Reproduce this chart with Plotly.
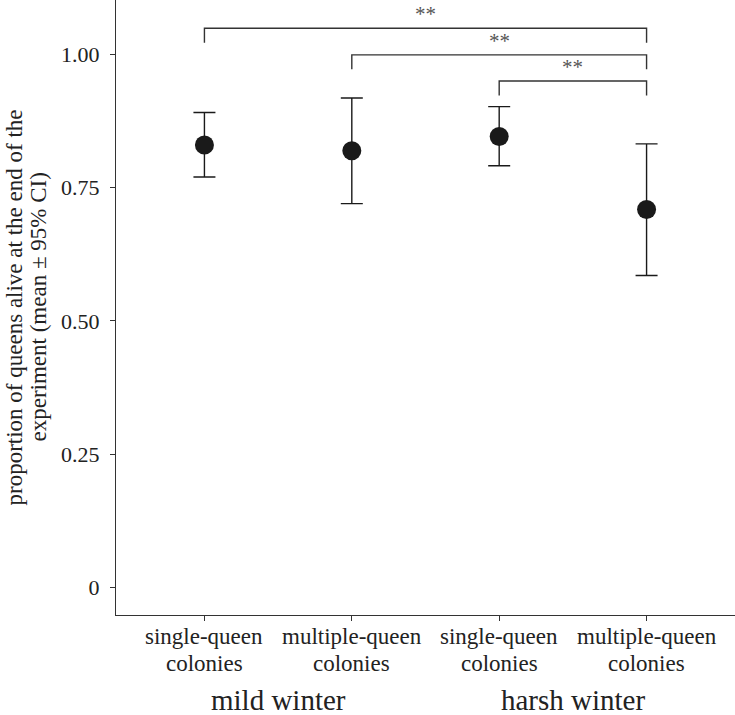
import plotly.graph_objects as go

# group means and 95% CI bounds
groups = [1, 2, 3, 4]
colony_type = ["single-queen", "multiple-queen", "single-queen", "multiple-queen"]
winter_labels = ["mild winter", "harsh winter"]
winter_centres = [1.5, 3.5]
mean_alive = [0.830, 0.819, 0.846, 0.709]
ci_upper = [0.891, 0.918, 0.902, 0.832]
ci_lower = [0.770, 0.720, 0.791, 0.585]

# significance brackets: (from group, to group, height, label)
bracket_from = [1, 2, 3]
bracket_to = [4, 4, 4]
bracket_height = [1.049, 0.999, 0.950]
bracket_label = ["**", "**", "**"]

y_ticks = [0, 0.25, 0.5, 0.75, 1.0]
y_ticktext = ["0", "0.25", "0.50", "0.75", "1.00"]

INK = "#1a1a1a"
AXIS = "#333333"
TEXT = "#222222"
FONT = "Liberation Serif, Times New Roman, serif"

fig = go.Figure()

# brackets first so markers sit on top
drop = 0.027
for x0, x1, h in zip(bracket_from, bracket_to, bracket_height):
    fig.add_trace(go.Scatter(
        x=[x0, x0, x1, x1], y=[h - drop, h, h, h - drop],
        mode="lines", line=dict(color=AXIS, width=1.4),
        hoverinfo="skip", showlegend=False,
    ))
for x0, x1, h, lab in zip(bracket_from, bracket_to, bracket_height, bracket_label):
    fig.add_annotation(
        x=(x0 + x1) / 2, y=h + 0.027, text=lab, showarrow=False,
        xanchor="center", yanchor="middle",
        font=dict(family=FONT, size=21, color="#555555"),
    )

fig.add_trace(go.Scatter(
    x=groups, y=mean_alive, mode="markers",
    marker=dict(size=19, color=INK),
    error_y=dict(
        type="data", symmetric=False,
        array=[u - m for u, m in zip(ci_upper, mean_alive)],
        arrayminus=[m - l for m, l in zip(mean_alive, ci_lower)],
        color=INK, thickness=1.4, width=11,
    ),
    showlegend=False,
))

fig.update_xaxes(
    range=[0.4, 4.6], tickmode="array", tickvals=groups, showticklabels=False,
    showgrid=False, zeroline=False, showline=True, linecolor=AXIS, linewidth=1.3,
    ticks="outside", ticklen=5, tickcolor=AXIS, tickwidth=1.2,
    automargin=False,
)
fig.update_yaxes(
    range=[-0.052, 1.102], tickmode="array", tickvals=y_ticks, ticktext=y_ticktext,
    showgrid=False, zeroline=False, showline=True, linecolor=AXIS, linewidth=1.3,
    ticks="outside", ticklen=5, tickcolor=AXIS, tickwidth=1.2,
    tickfont=dict(family=FONT, size=22, color=TEXT),
    ticklabelstandoff=6, automargin=False,
)

# two-line category labels, spaced tighter than a <br> would give
for g, name in zip(groups, colony_type):
    for text, dy in [(name, -21), ("colonies", -48)]:
        fig.add_annotation(
            x=g, y=0, xref="x", yref="paper", yshift=dy,
            text=text, showarrow=False, xanchor="center", yanchor="middle",
            font=dict(family=FONT, size=23, color=TEXT),
        )

# winter treatment labels
for text, xc in zip(winter_labels, winter_centres):
    fig.add_annotation(
        x=xc, y=0, xref="x", yref="paper", yshift=-85,
        text=text, showarrow=False, xanchor="center", yanchor="middle",
        font=dict(family=FONT, size=29, color=TEXT),
    )

# y-axis title as two rotated lines
for text, shift in [("proportion of queens alive at the end of the", -102),
                    ("experiment (mean ± 95% CI)", -78)]:
    fig.add_annotation(
        x=0, y=0.5, xref="paper", yref="paper", xshift=shift,
        text=text, textangle=-90, showarrow=False,
        xanchor="center", yanchor="middle",
        font=dict(family=FONT, size=23, color=TEXT),
    )

fig.update_layout(
    width=735, height=715,
    margin=dict(l=116, r=0, t=0, b=100),
    plot_bgcolor="white", paper_bgcolor="white",
    font=dict(family=FONT),
)

# drop the page's default body margin so the figure sits at the window's corner
fig.write_html(
    "out.html",
    config={"displayModeBar": False},
    post_script="document.body.style.margin='0';",
)
